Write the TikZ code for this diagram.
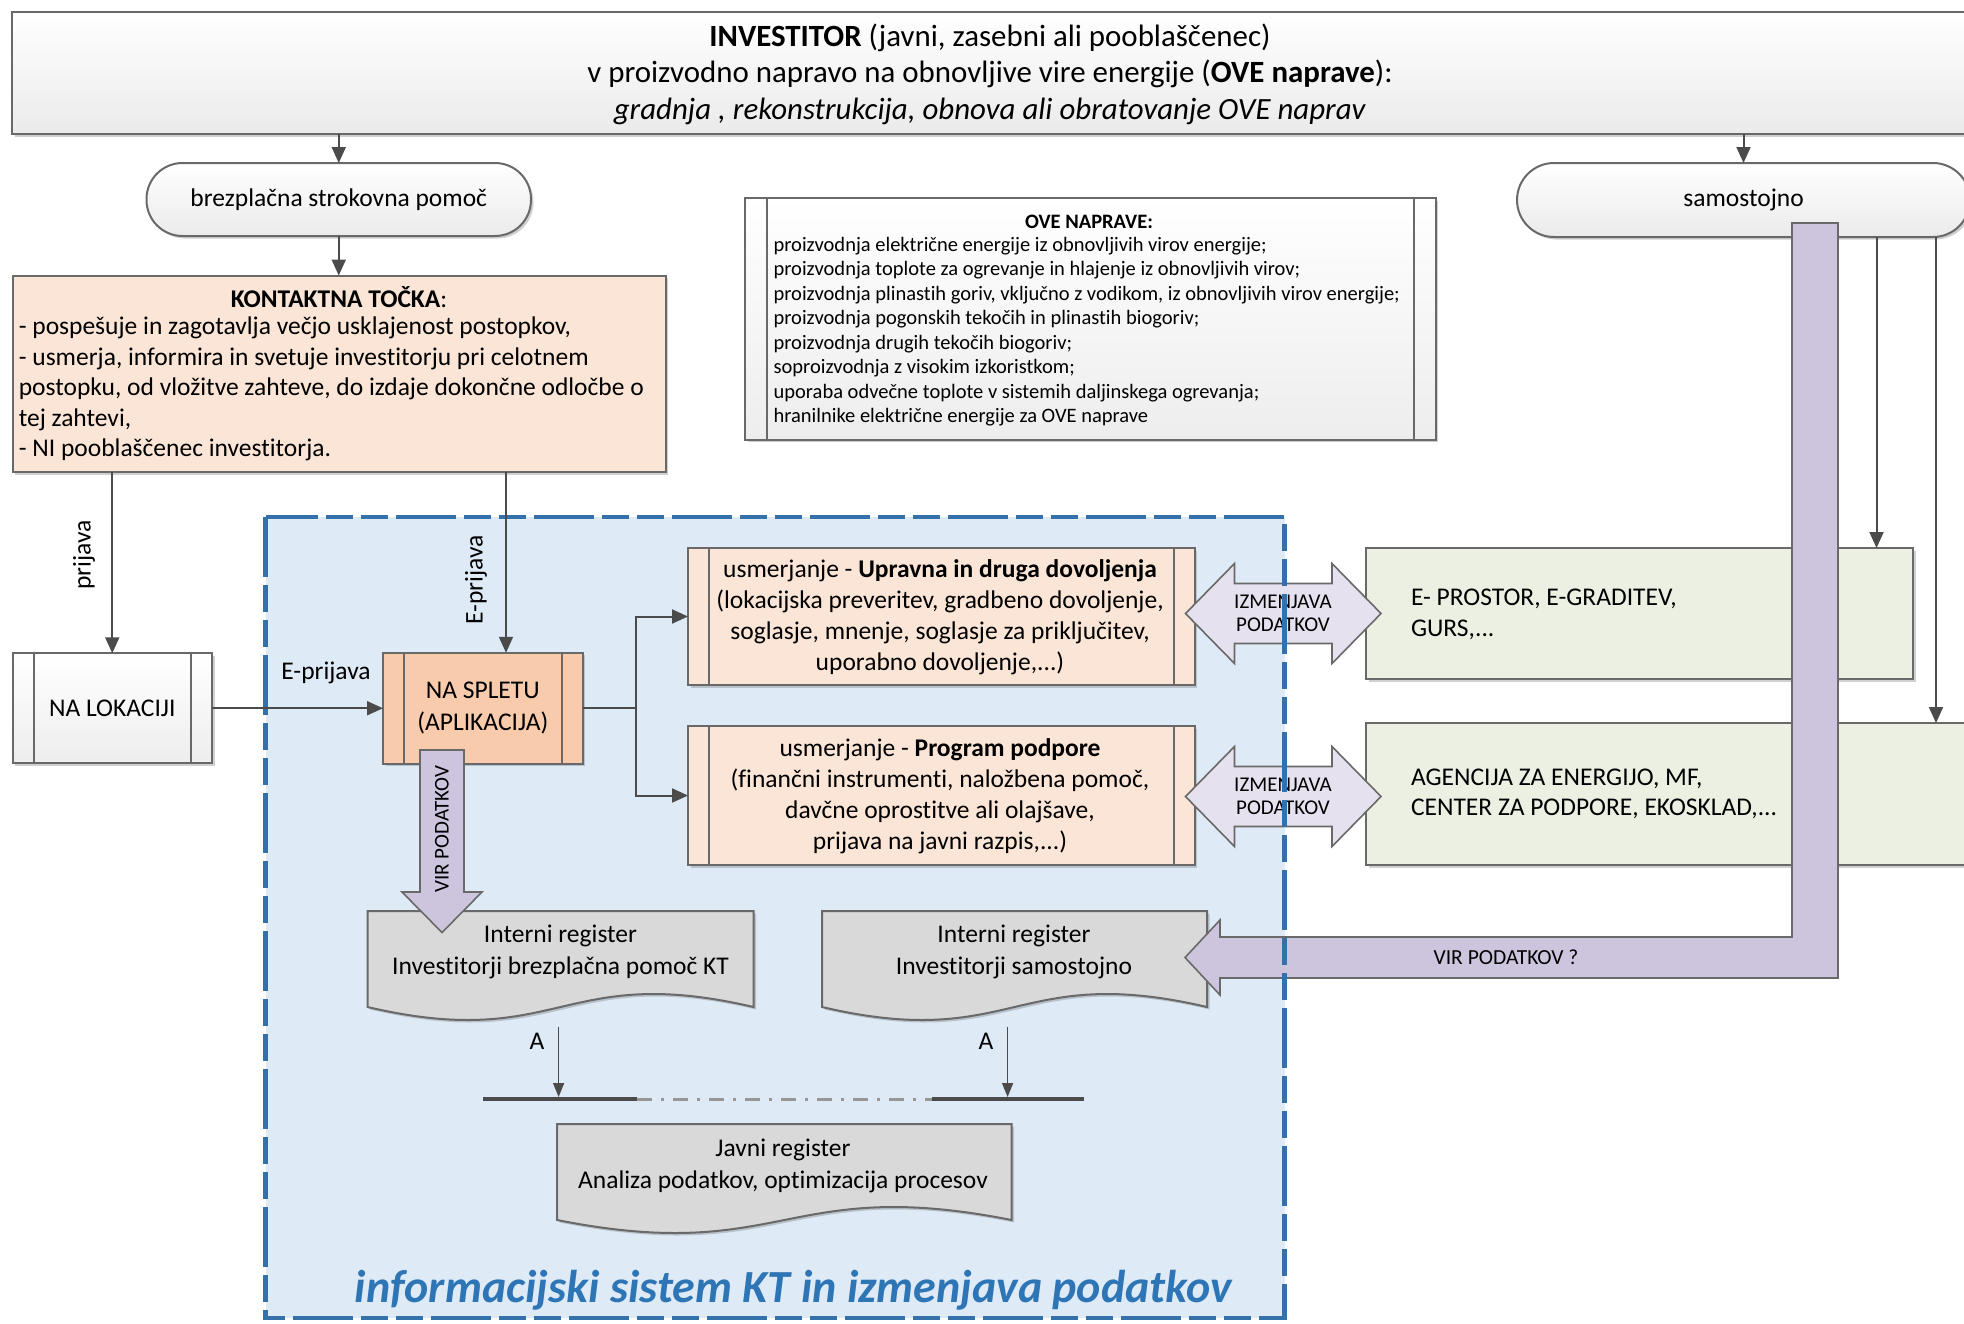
\documentclass[tikz,border=0pt]{standalone}
\usepackage{fontspec}
\setmainfont{Carlito}[Ligatures=NoCommon]
\usetikzlibrary{arrows.meta,shadows}
\definecolor{lineG}{RGB}{75,75,75}
\definecolor{boxB}{RGB}{105,105,105}
\definecolor{peach}{RGB}{251,229,214}
\definecolor{orng}{RGB}{248,203,173}
\definecolor{lgreen}{RGB}{236,240,227}
\definecolor{lblue}{RGB}{222,234,246}
\definecolor{dblue}{RGB}{52,112,170}
\definecolor{lav}{RGB}{205,197,222}
\definecolor{lavlt}{RGB}{229,225,238}
\definecolor{docg}{RGB}{217,217,217}
\definecolor{capblue}{RGB}{46,117,182}
\definecolor{ddash}{RGB}{150,150,150}
\newcommand{\fsz}[2]{\fontsize{#1}{#2}\selectfont}
\begin{document}
\begin{tikzpicture}[x=1pt,y=-1pt,
  every node/.style={inner sep=0pt,outer sep=0pt},
  shad/.style={drop shadow={shadow xshift=2.5pt,shadow yshift=-2.5pt,opacity=.3,fill=black!60}},
  bx/.style={draw=boxB,line width=2pt,shad},
  conn/.style={draw=lineG,line width=2pt,-{Triangle[length=16pt,width=14pt]}},
  aconn/.style={draw=lineG,line width=1.6pt,-{Triangle[length=14pt,width=11pt]}},
  txt/.style={font=\fsz{25.5}{31}},
  bar/.style={draw=boxB,line width=2pt},
  purp/.style={fill=lav,draw=boxB,line width=1.6pt},
  dbl/.style={fill=lavlt,draw=boxB,line width=1.6pt},
  docs/.style={fill=docg,draw=boxB,line width=2pt,shad}
]
\useasboundingbox (0,0) rectangle (1964,1323);
\clip (0,0) rectangle (1964,1323);
\fill[white] (0,0) rectangle (1964,1323);
% blue region fill
\fill[lblue] (265.5,517) rectangle (1284.5,1318);

% top box
\node[bx,top color=white,bottom color=black!8,minimum width=1956pt,minimum height=122pt] (top) at (990,73) {};
\node[font=\fsz{30.9}{36.5},align=center] (topT) at (990,74) {\textbf{INVESTITOR} (javni, zasebni ali pooblaščenec)\\v proizvodno napravo na obnovljive vire energije (\textbf{OVE naprave}):\\\textit{gradnja , rekonstrukcija, obnova ali obratovanje OVE naprav}};

% terminators
\node[bx,top color=white,bottom color=black!8,rounded corners=36pt,minimum width=384.5pt,minimum height=73pt,txt] (brez) at (338.75,199.5) {brezplačna strokovna pomoč};
\node[bx,top color=white,bottom color=black!8,rounded corners=37pt,minimum width=453pt,minimum height=74pt,txt] (samo) at (1743.5,200) {samostojno};

% OVE box
\node[bx,top color=white,bottom color=black!7,minimum width=690.5pt,minimum height=241.5pt] (ove) at (1090.25,318.75) {};
\draw[bar] ([xshift=21.5pt]ove.north west) -- ([xshift=21.5pt]ove.south west);
\draw[bar] ([xshift=-21.5pt]ove.north east) -- ([xshift=-21.5pt]ove.south east);
\node[font=\fsz{20.5}{24.5}\bfseries] (oveT) at (1089,222) {OVE NAPRAVE:};
\node[font=\fsz{20.5}{24.5},align=left,anchor=west] (oveL) at (773.6,331.5) {proizvodnja električne energije iz obnovljivih virov energije;\\proizvodnja toplote za ogrevanje in hlajenje iz obnovljivih virov;\\proizvodnja plinastih goriv, vključno z vodikom, iz obnovljivih virov energije;\\proizvodnja pogonskih tekočih in plinastih biogoriv;\\proizvodnja drugih tekočih biogoriv;\\soproizvodnja z visokim izkoristkom;\\uporaba odvečne toplote v sistemih daljinskega ogrevanja;\\hranilnike električne energije za OVE naprave};

% KT
\node[bx,fill=peach,minimum width=653pt,minimum height=196.5pt] (kt) at (339,373.75) {};
\node[font=\fsz{25.5}{30.4}] (ktT) at (339,297) {\textbf{KONTAKTNA TOČKA}:};
\node[font=\fsz{25.5}{30.4},align=left,anchor=west] (ktL) at (18.8,389) {- pospešuje in zagotavlja večjo usklajenost postopkov,\\- usmerja, informira in svetuje investitorju pri celotnem\\postopku, od vložitve zahteve, do izdaje dokončne odločbe o\\tej zahtevi,\\- NI pooblaščenec investitorja.};

% NA LOKACIJI / NA SPLETU
\node[bx,top color=white,bottom color=black!7,minimum width=199.5pt,minimum height=110pt,txt] (naLok) at (112.25,708.25) {NA LOKACIJI};
\draw[bar] ([xshift=21pt]naLok.north west) -- ([xshift=21pt]naLok.south west);
\draw[bar] ([xshift=-21pt]naLok.north east) -- ([xshift=-21pt]naLok.south east);
\node[bx,fill=orng,minimum width=199.6pt,minimum height=111pt,font=\fsz{25.5}{32},align=center] (naSpl) at (482.8,708.25) {NA SPLETU\\(APLIKACIJA)};
\draw[bar] ([xshift=21pt]naSpl.north west) -- ([xshift=21pt]naSpl.south west);
\draw[bar] ([xshift=-21pt]naSpl.north east) -- ([xshift=-21pt]naSpl.south east);

% usmerjanje boxes
\node[bx,fill=peach,minimum width=506.6pt,minimum height=137pt] (usm1) at (941.3,616.5) {};
\draw[bar] ([xshift=21pt]usm1.north west) -- ([xshift=21pt]usm1.south west);
\draw[bar] ([xshift=-21pt]usm1.north east) -- ([xshift=-21pt]usm1.south east);
\node[font=\fsz{25.5}{31},align=center] (usm1T) at (940,617.5) {usmerjanje - \textbf{Upravna in druga dovoljenja}\\(lokacijska preveritev, gradbeno dovoljenje,\\soglasje, mnenje, soglasje za priključitev,\\uporabno dovoljenje,...)};
\node[bx,fill=peach,minimum width=506.6pt,minimum height=139pt] (usm2) at (941.3,795.5) {};
\draw[bar] ([xshift=21pt]usm2.north west) -- ([xshift=21pt]usm2.south west);
\draw[bar] ([xshift=-21pt]usm2.north east) -- ([xshift=-21pt]usm2.south east);
\node[font=\fsz{25.5}{31},align=center] (usm2T) at (940,796) {usmerjanje - \textbf{Program podpore}\\(finančni instrumenti, naložbena pomoč,\\davčne oprostitve ali olajšave,\\prijava na javni razpis,...)};

% external boxes
\node[bx,fill=lgreen,minimum width=547pt,minimum height=131pt] (eprost) at (1639.5,613.5) {};
\node[font=\fsz{25.5}{30.5},align=left,anchor=west] (eprostT) at (1411,614.5) {E- PROSTOR, E-GRADITEV,\\GURS,...};
\node[bx,fill=lgreen,minimum width=609pt,minimum height=142pt] (agen) at (1670.5,794) {};
\node[font=\fsz{25.5}{30.5},align=left,anchor=west] (agenT) at (1411,794) {AGENCIJA ZA ENERGIJO, MF,\\CENTER ZA PODPORE, EKOSKLAD,...};

% documents
\filldraw[docs] (367.5,911) -- (753.5,911) -- (753.5,1007) .. controls (560.5,962) and (560.5,1052) .. (367.5,1007) -- cycle;
\node[font=\fsz{25.5}{31.3},align=center] (doc1) at (560.5,952) {Interni register\\Investitorji brezplačna pomoč KT};
\filldraw[docs] (822,911) -- (1207,911) -- (1207,1007) .. controls (1014.5,962) and (1014.5,1052) .. (822,1007) -- cycle;
\node[font=\fsz{25.5}{31.3},align=center] (doc2) at (1014,952) {Interni register\\Investitorji samostojno};
\filldraw[docs] (557,1124) -- (1011.6,1124) -- (1011.6,1220) .. controls (784.3,1175) and (784.3,1265) .. (557,1220) -- cycle;
\node[font=\fsz{25.5}{31.7},align=center] (doc3) at (783,1166) {Javni register\\Analiza podatkov, optimizacija procesov};

% caption
\node[font=\fsz{46}{52}\bfseries\itshape,text=capblue] (cap) at (793.5,1290) {informacijski sistem KT in izmenjava podatkov};

% purple arrows
\filldraw[purp] (420,750) -- (464,750) -- (464,892) -- (482,892) -- (442,932.5) -- (402,892) -- (420,892) -- cycle;
\node[font=\fsz{21}{24},rotate=90] (vir1) at (442,829) {VIR PODATKOV};
\filldraw[purp] (1792,223) -- (1838,223) -- (1838,978) -- (1220,978) -- (1220,995) -- (1185,957.5) -- (1220,920) -- (1220,937) -- (1792,937) -- cycle;
\node[font=\fsz{21.5}{24}] (vir2) at (1506,957.5) {VIR PODATKOV ?};

% double arrows
\filldraw[dbl] (1185.5,613.5) -- (1234.5,563.5) -- (1234.5,583.5) -- (1332,583.5) -- (1332,563.5) -- (1381,613.5) -- (1332,663.5) -- (1332,643.5) -- (1234.5,643.5) -- (1234.5,663.5) -- cycle;
\node[font=\fsz{21}{23.5},align=center] (izm1) at (1283,613.5) {IZMENJAVA\\PODATKOV};
\filldraw[dbl] (1185.5,796.5) -- (1234.5,746.5) -- (1234.5,766.5) -- (1332,766.5) -- (1332,746.5) -- (1381,796.5) -- (1332,846.5) -- (1332,826.5) -- (1234.5,826.5) -- (1234.5,846.5) -- cycle;
\node[font=\fsz{21}{23.5},align=center] (izm2) at (1283,796.5) {IZMENJAVA\\PODATKOV};

% blue dashed border
\draw[dblue,line width=4.5pt,dash pattern=on 60pt off 8pt on 27pt off 8pt on 27pt off 8pt] (265.5,517) rectangle (1284.5,1318);

% connectors
\draw[conn] (top.south -| brez.north) -- (brez.north);
\draw[conn] (top.south -| samo.north) -- (samo.north);
\draw[conn] (brez.south) -- (brez.south |- kt.north);
\draw[conn] (kt.south -| naLok.north) -- (naLok.north);
\node[txt,rotate=90] (lprij) at (84,555) {prijava};
\coordinate (spIn) at ([xshift=23.2pt]naSpl.north);
\draw[conn] (kt.south -| spIn) -- (spIn);
\node[txt,rotate=90] (leprij) at (476,580) {E-prijava};
\draw[conn] (naLok.east) -- (naSpl.west);
\node[txt] (leprij2) at (326,673) {E-prijava};
\draw[conn] (naSpl.east) -- ++(53.4,0) |- (usm1.west);
\draw[conn] (naSpl.east) -- ++(53.4,0) |- (usm2.west);
\coordinate (e1) at ([xshift=-36.5pt]eprost.north east);
\draw[conn] (samo.south -| e1) -- (e1);
\coordinate (e2) at ([xshift=570pt]agen.north west);
\draw[conn] (samo.south -| e2) -- (e2);

% bar and A arrows
\coordinate (bL) at (483,1099);
\coordinate (bM1) at (637,1099);
\coordinate (bM2) at (932,1099);
\coordinate (bR) at (1084,1099);
\draw[lineG,line width=3.5pt] (bL) -- (bM1);
\draw[ddash,line width=3pt,dash pattern=on 15pt off 9pt on 3pt off 9pt] (bM1) -- (bM2);
\draw[lineG,line width=3.5pt] (bM2) -- (bR);
\coordinate (a1s) at (558.6,1027);
\coordinate (a1e) at (558.6,1097);
\draw[aconn] (a1s) -- (a1e);
\node[txt] (a1) at (537,1041) {A};
\coordinate (a2s) at (1007.6,1027);
\coordinate (a2e) at (1007.6,1097);
\draw[aconn] (a2s) -- (a2e);
\node[txt] (a2) at (986,1041) {A};
\end{tikzpicture}
\end{document}
